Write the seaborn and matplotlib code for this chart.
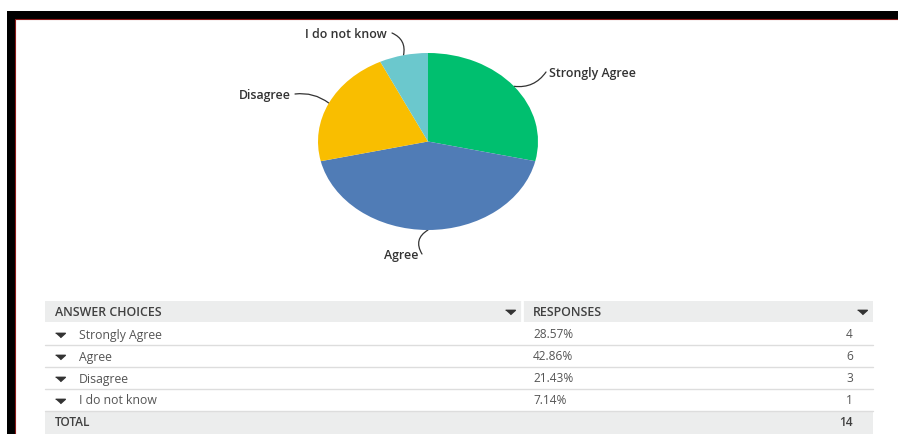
import matplotlib
matplotlib.use("Agg")
import matplotlib.pyplot as plt
import seaborn as sns
import numpy as np

sns.set_style("white")
plt.rcParams['font.family'] = ['Open Sans', 'DejaVu Sans']

# ---- data ----
categories = ["Strongly Agree", "Agree", "Disagree", "I do not know"]
counts = [4, 6, 3, 1]
percents = ["28.57%", "42.86%", "21.43%", "7.14%"]
total = 14
colors = ["#00BF6F", "#507CB6", "#F9BE00", "#6BC8CD"]

W, H = 898, 434
fig = plt.figure(figsize=(W / 100, H / 100), dpi=100)
fig.patch.set_facecolor("white")

# overlay axes in pixel coordinates (y from top)
ov = fig.add_axes([0, 0, 1, 1])
ov.set_xlim(0, W)
ov.set_ylim(H, 0)
ov.axis("off")

# border
ov.add_patch(plt.Rectangle((7, 11), W - 7, 8, color="black", lw=0, zorder=5))
ov.add_patch(plt.Rectangle((7, 11), 8, H - 11, color="black", lw=0, zorder=5))
ov.plot([15, W], [19.3, 19.3], color="#8B1A1A", lw=0.8, zorder=6)
ov.plot([15.3, 15.3], [19, H], color="#8B1A1A", lw=0.8, zorder=6)

# ---- pie (ellipse) ----
pl, pr, pt, pb = 318, 538, 53, 230
pax = fig.add_axes([pl / W, 1 - pb / H, (pr - pl) / W, (pb - pt) / H])
wedges, _ = pax.pie(counts, colors=colors, startangle=90, counterclock=False,
                    wedgeprops=dict(linewidth=0))
pax.set_aspect("auto")
pax.set_xlim(-1, 1)
pax.set_ylim(-1, 1)
pax.axis("off")

label_pos = {
    "Strongly Agree": ((549, 72), "left", "arc3,rad=-0.3", (546, 72)),
    "Agree": ((418, 254), "right", "arc3,rad=-0.5", (422, 254)),
    "Disagree": ((291, 94), "right", "arc3,rad=-0.2", (295, 94)),
    "I do not know": ((387, 33), "right", "arc3,rad=-0.4", (392, 33)),
}
for w, cat in zip(wedges, categories):
    ang = np.deg2rad((w.theta1 + w.theta2) / 2)
    x, y = np.cos(ang), np.sin(ang)
    (tx, ty), ha, cs, (lx, ly) = label_pos[cat]
    ov.text(tx, ty + 1, cat, ha=ha, va="center", fontsize=8.9, fontweight="semibold",
            color="#333333", zorder=10)
    ov.annotate("", xy=(x, y), xycoords=pax.transData,
                xytext=(lx, ly), textcoords=ov.transData,
                arrowprops=dict(arrowstyle="-", color="#333333", lw=0.9,
                                connectionstyle=cs, shrinkA=0, shrinkB=0),
                zorder=10)

caret = [(-1, 0.45), (1, 0.45), (0, -0.45)]

# ---- table ----
tl, tr, tdiv = 45, 873, 522
hdr_top, row_h = 301, 22
grey = "#ECEDED"
ov.add_patch(plt.Rectangle((tl, hdr_top), tr - tl, 21, color=grey, lw=0))
ov.plot([tdiv, tdiv], [hdr_top, hdr_top + 21], color="white", lw=2)
hy = hdr_top + 11.5
ov.text(55, hy + 0.5, "ANSWER CHOICES", ha="left", va="center", fontsize=8.9,
        fontweight="semibold", color="#404040")
ov.text(533, hy + 0.5, "RESPONSES", ha="left", va="center", fontsize=8.9,
        fontweight="semibold", color="#404040")
ov.plot([510, 862], [hy - 1, hy - 1], ls="none", marker=caret, ms=7, color="#333333")

for i, (cat, pct, c) in enumerate(zip(categories, percents, counts)):
    top = hdr_top + 21 + i * row_h
    cy = top + row_h / 2 + 2
    ov.plot([60], [cy], marker=caret, ms=7, color="#333333")
    ov.text(79, cy, cat, ha="left", va="center", fontsize=8.8, color="#555555")
    ov.text(533, cy, pct, ha="left", va="center", fontsize=8.6, color="#555555")
    ov.text(853, cy, str(c), ha="right", va="center", fontsize=8.6, color="#555555")
    ov.plot([tl, tr], [top + row_h + 1, top + row_h + 1], color="#DDDDDD", lw=1)

tot_top = hdr_top + 21 + 4 * row_h + 1.5
ov.add_patch(plt.Rectangle((tl, tot_top), tr - tl, H - tot_top, color=grey, lw=0))
ty = tot_top + 11.5
ov.text(55, ty, "TOTAL", ha="left", va="center", fontsize=8.6,
        fontweight="semibold", color="#404040")
ov.text(853, ty, str(total), ha="right", va="center", fontsize=8.6,
        fontweight="semibold", color="#404040")

fig.savefig("out.png", dpi=100)
